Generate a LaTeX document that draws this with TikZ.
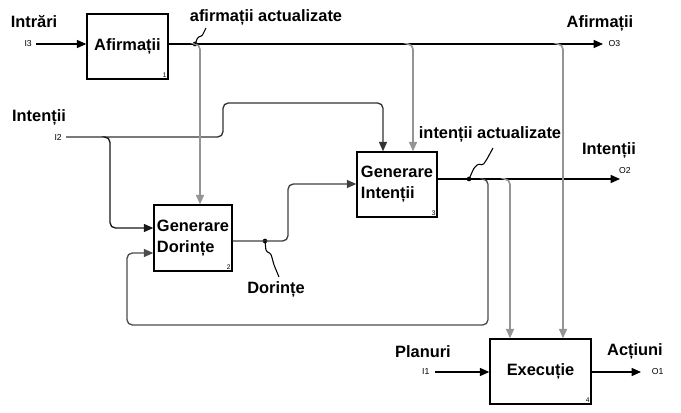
\documentclass[tikz,border=0pt]{standalone}
\usepackage{fontspec}
\setmainfont{Liberation Sans}
\usetikzlibrary{arrows.meta,positioning}
\tikzset{
	box node/.style={draw,line width=1.1pt,inner sep=2pt,font=\bfseries\fontsize{12.3}{15.5}\selectfont},
	lbl/.style={font=\bfseries\fontsize{12.3}{14}\selectfont,inner sep=0pt},
	port/.style={font=\fontsize{6.5}{7}\selectfont,inner sep=0pt},
	num/.style={font=\fontsize{5}{5}\selectfont,inner sep=1.5pt,anchor=south east},
	conn/.style={->,line width=1pt,rounded corners=4pt},
	branch/.style={conn,draw=black!42,line width=1.2pt},
	dot/.style={circle,fill,inner sep=0pt,minimum size=3.5pt},
	squig/.style={line width=0.8pt,rounded corners=1pt}
}

\begin{document}
\begin{tikzpicture}[x=0.75pt,y=-0.75pt,>={Triangle[length=7pt,width=6pt]}]
	\useasboundingbox (0,0) rectangle (681,413);
	% activity boxes
	\node [box node,minimum width=60.75pt,minimum height=48.75pt,label={[num]south east:1}] (A1) at (127.5,46.5) {Afirmații};
	\node [box node,minimum width=58.5pt,minimum height=49.5pt,align=left,label={[num]south east:2}] (A2) at (193,238) {Generare\\Dorințe};
	\node [box node,minimum width=60pt,minimum height=48.75pt,align=left,label={[num]south east:3}] (A3) at (397,184.5) {Generare\\Intenții};
	\node [box node,minimum width=75.75pt,minimum height=48.75pt,label={[num]south east:4}] (A4) at (540.5,371.5) {Execuție};

	% ends and bends
	\coordinate (i3) at (36,44);
	\coordinate (o3) at (603,44);
	\coordinate (i2) at (66,137);
	\coordinate (o2) at (620,179);
	\coordinate (i1) at (435,372);
	\coordinate (o1) at (641,372);
	\node [dot] (d1) at (195,44) {};
	\node [dot] (d2) at (265,241) {};
	\node [dot] (d3) at (469,179) {};
	\coordinate (b2) at (408,44);
	\coordinate (c2) at (413,0);
	\coordinate (b3) at (558,44);
	\coordinate (c3) at (563,0);
	\coordinate (c1) at (200,0);
	\coordinate (r1) at (223,103);
	\coordinate (c4) at (383,0);
	\coordinate (b5) at (105,137);
	\coordinate (c5) at (110,228);
	\coordinate (r2) at (288,184);
	\coordinate (b8) at (483,179);
	\coordinate (r3) at (488,325);
	\coordinate (r4) at (127,253);
	\coordinate (b9) at (505,179);
	\coordinate (c9) at (510,0);

	% main flows
	\draw [conn] (i3) -- (i3 -| A1.west);
	\draw [conn] (A1.east |- d1.center) -- (o3);
	\draw [conn] (A3.east |- d3.center) -- (o2);
	\draw [conn] (i1) -- (i1 -| A4.west);
	\draw [conn] (A4.east |- o1) -- (o1);
	\draw [conn,draw=black!80] (i2) -| (r1) -| (c4 |- A3.north);
	\draw [conn,draw=black!90] (b5) -| (c5) -- (c5 -| A2.west);
	\draw [conn,draw=black!75] (A2.east |- d2.center) -| (r2) -- (r2 -| A3.west);
	\draw [conn,draw=black!70] (b8) -| (r3) -| (r4) -- (r4 -| A2.west);

	% branches
	\draw [branch] (d1.center) -| (c1 |- A2.north);
	\draw [branch] (b2) -| (c2 |- A3.north);
	\draw [branch] (b3) -| (c3 |- A4.north);
	\draw [branch] (b9) -| (c9 |- A4.north);

	% labels
	\node [lbl] (lIn3) at (34,22) {Intrări};
	\node [port,left=3pt of i3] (pI3) {I3};
	\node [lbl] (lOut3) at (600,23) {Afirmații};
	\node [port,right=4pt of o3] (pO3) {O3};
	\node [lbl] (lIn2) at (39,117) {Intenții};
	\node [port,left=3pt of i2] (pI2) {I2};
	\node [lbl] (lOut2) at (609,150) {Intenții};
	\node [port] (pO2) at (625,171) {O2};
	\node [lbl] (lIn1) at (423,352) {Planuri};
	\node [port,left=4pt of i1] (pI1) {I1};
	\node [lbl] (lOut1) at (635,351) {Acțiuni};
	\node [port,right=8pt of o1] (pO1) {O1};
	\node [lbl] (lAa) at (266,17) {afirmații actualizate};
	\node [lbl] (lIa) at (490,134) {intenții actualizate};
	\node [lbl] (lDo) at (276,289) {Dorințe};

	% squiggles
	\coordinate (s1) at (206,28);
	\coordinate (s2) at (279,277);
	\coordinate (s3) at (493,148);
	\draw [squig] (d1.center) -- (198,37) -- (202,36) -- (s1);
	\draw [squig] (d2.center) -- (266,251) -- (271,254) -- (274,265) -- (s2);
	\draw [squig] (d3.center) -- (474,168) -- (478,164) -- (483,165) -- (487,159) -- (s3);
\end{tikzpicture}
\end{document}
